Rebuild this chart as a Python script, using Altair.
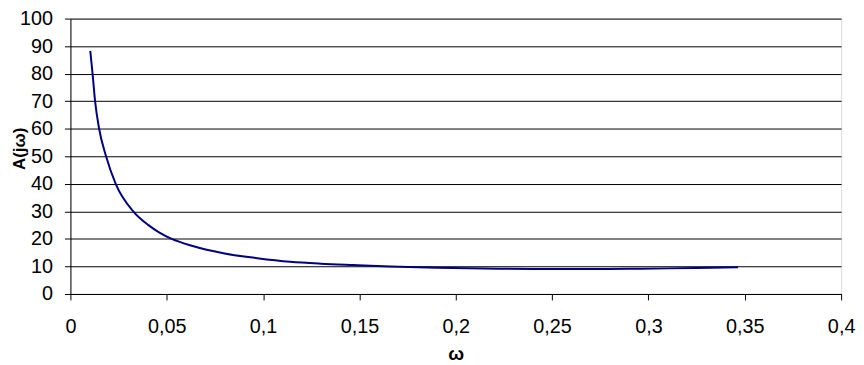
import altair as alt
import pandas as pd

omega = [0.0103, 0.0115, 0.0128, 0.0149, 0.0185, 0.0235, 0.0326, 0.0405, 0.046,
         0.0526, 0.063, 0.08, 0.097, 0.114, 0.13, 0.147, 0.166, 0.19, 0.215,
         0.24, 0.27, 0.29, 0.31, 0.325, 0.3465]
amplitude = [88.3, 80, 70, 60, 50, 40, 30, 25, 22.4,
             20, 17.5, 14.7, 13.0, 11.7, 11.0, 10.5, 10.0, 9.5, 9.25,
             9.1, 9.1, 9.15, 9.3, 9.45, 9.7]
x_ticks = [0, 0.05, 0.1, 0.15, 0.2, 0.25, 0.3, 0.35, 0.4]
y_ticks = list(range(0, 101, 10))

df = pd.DataFrame({"omega": omega, "A": amplitude})

font = "Liberation Sans"
plot_h = 278

chart = alt.Chart(df).mark_line(
    color="#000080", strokeWidth=2, interpolate="monotone"
).encode(
    x=alt.X("omega:Q",
            scale=alt.Scale(domain=[0, 0.4], nice=False, zero=False),
            axis=alt.Axis(
                title="ω", values=x_ticks,
                labelExpr="replace(format(datum.value, '~g'), '.', ',')",
                grid=False, domainColor="black", tickColor="black",
                tickSize=6, labelPadding=17, labelFont=font, labelFontSize=20,
                labelColor="black", titleFont=font, titleFontSize=19,
                titleFontWeight="bold", titleColor="black", titlePadding=8,
                labelFlush=False)),
    y=alt.Y("A:Q",
            scale=alt.Scale(domain=[0, 100], nice=False),
            axis=alt.Axis(
                title="A(jω)", values=y_ticks, grid=True, gridColor="black",
                gridWidth=1, gridOpacity=1, domainColor="black",
                tickColor="black", tickSize=6, labelPadding=12,
                labelFont=font, labelFontSize=20, labelColor="black",
                titleFont=font, titleFontSize=17, titleFontWeight="bold",
                titleColor="black", titleAngle=-90, titleX=-51,
                titleY=131, titleAlign="center", titleBaseline="middle"))
).properties(
    width=778, height=plot_h,
    autosize=alt.AutoSizeParams(type="none"),
    padding={"left": 63, "top": 9, "right": 15, "bottom": 70}
).configure_view(stroke=None).configure(background="white")

chart.save("out.html", embed_options={"renderer": "svg", "actions": False})
